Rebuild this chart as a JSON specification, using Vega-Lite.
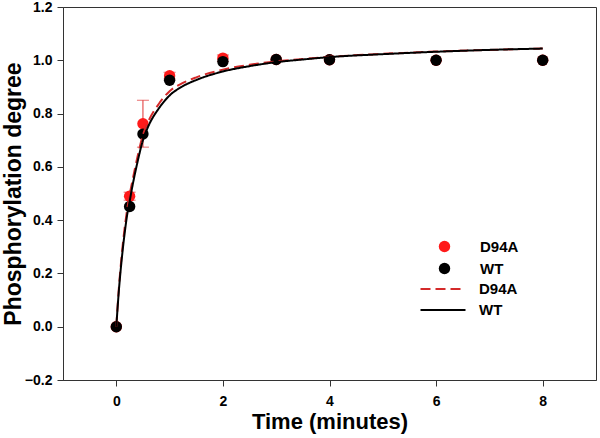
{
  "$schema": "https://vega.github.io/schema/vega-lite/v6.json",
  "width": 533,
  "height": 373,
  "autosize": "none",
  "padding": {"left": 63, "top": 7, "right": 4, "bottom": 58},
  "background": "white",
  "config": {
    "font": "Liberation Sans",
    "view": {"stroke": "#333333", "strokeWidth": 1},
    "axis": {
      "grid": false,
      "domainColor": "#333333",
      "tickColor": "#333333",
      "tickSize": 6,
      "labelFontSize": 14,
      "labelFontWeight": "bold",
      "labelColor": "#000000",
      "titleFontSize": 23,
      "titleFontWeight": "bold",
      "titleColor": "#000000"
    },
    "legend": {"padding": 0, "labelFontSize": 15, "labelFontWeight": "bold", "labelColor": "#000000"}
  },
  "datasets": {
    "points": [
      {"series": "D94A", "time": 0, "value": 0},
      {"series": "D94A", "time": 0.25, "value": 0.49},
      {"series": "D94A", "time": 0.5, "value": 0.762},
      {"series": "D94A", "time": 1, "value": 0.942},
      {"series": "D94A", "time": 2, "value": 1.008},
      {"series": "D94A", "time": 3, "value": 1.003},
      {"series": "D94A", "time": 4, "value": 1.002},
      {"series": "D94A", "time": 6, "value": 1.0},
      {"series": "D94A", "time": 8, "value": 1.0},
      {"series": "WT", "time": 0, "value": 0},
      {"series": "WT", "time": 0.25, "value": 0.451},
      {"series": "WT", "time": 0.5, "value": 0.723},
      {"series": "WT", "time": 1, "value": 0.925},
      {"series": "WT", "time": 2, "value": 0.995},
      {"series": "WT", "time": 3, "value": 1.003},
      {"series": "WT", "time": 4, "value": 1.002},
      {"series": "WT", "time": 6, "value": 1.0},
      {"series": "WT", "time": 8, "value": 1.0}
    ],
    "errors": [
      {"time": 0.25, "lower": 0.475, "upper": 0.505},
      {"time": 0.5, "lower": 0.674, "upper": 0.85},
      {"time": 1, "lower": 0.93, "upper": 0.955},
      {"time": 2, "lower": 0.995, "upper": 1.02}
    ],
    "curves": [
      {"fit": "D94A fit", "time": 0, "value": 0},
      {"fit": "D94A fit", "time": 0.05, "value": 0.15},
      {"fit": "D94A fit", "time": 0.1, "value": 0.265},
      {"fit": "D94A fit", "time": 0.15, "value": 0.36},
      {"fit": "D94A fit", "time": 0.2, "value": 0.435},
      {"fit": "D94A fit", "time": 0.25, "value": 0.495},
      {"fit": "D94A fit", "time": 0.3, "value": 0.545},
      {"fit": "D94A fit", "time": 0.4, "value": 0.64},
      {"fit": "D94A fit", "time": 0.5, "value": 0.72},
      {"fit": "D94A fit", "time": 0.6, "value": 0.77},
      {"fit": "D94A fit", "time": 0.8, "value": 0.837},
      {"fit": "D94A fit", "time": 1, "value": 0.884},
      {"fit": "D94A fit", "time": 1.25, "value": 0.915},
      {"fit": "D94A fit", "time": 1.5, "value": 0.936},
      {"fit": "D94A fit", "time": 2, "value": 0.965},
      {"fit": "D94A fit", "time": 2.5, "value": 0.983},
      {"fit": "D94A fit", "time": 3, "value": 0.996},
      {"fit": "D94A fit", "time": 3.5, "value": 1.005},
      {"fit": "D94A fit", "time": 4, "value": 1.013},
      {"fit": "D94A fit", "time": 5, "value": 1.024},
      {"fit": "D94A fit", "time": 6, "value": 1.033},
      {"fit": "D94A fit", "time": 7, "value": 1.039},
      {"fit": "D94A fit", "time": 8, "value": 1.044},
      {"fit": "WT fit", "time": 0, "value": 0},
      {"fit": "WT fit", "time": 0.05, "value": 0.14},
      {"fit": "WT fit", "time": 0.1, "value": 0.25},
      {"fit": "WT fit", "time": 0.15, "value": 0.34},
      {"fit": "WT fit", "time": 0.2, "value": 0.415},
      {"fit": "WT fit", "time": 0.25, "value": 0.47},
      {"fit": "WT fit", "time": 0.3, "value": 0.525},
      {"fit": "WT fit", "time": 0.4, "value": 0.62},
      {"fit": "WT fit", "time": 0.5, "value": 0.7},
      {"fit": "WT fit", "time": 0.6, "value": 0.752},
      {"fit": "WT fit", "time": 0.8, "value": 0.82},
      {"fit": "WT fit", "time": 1, "value": 0.868},
      {"fit": "WT fit", "time": 1.25, "value": 0.903},
      {"fit": "WT fit", "time": 1.5, "value": 0.926},
      {"fit": "WT fit", "time": 2, "value": 0.958},
      {"fit": "WT fit", "time": 2.5, "value": 0.978},
      {"fit": "WT fit", "time": 3, "value": 0.993},
      {"fit": "WT fit", "time": 3.5, "value": 1.003},
      {"fit": "WT fit", "time": 4, "value": 1.012},
      {"fit": "WT fit", "time": 5, "value": 1.023},
      {"fit": "WT fit", "time": 6, "value": 1.032},
      {"fit": "WT fit", "time": 7, "value": 1.039},
      {"fit": "WT fit", "time": 8, "value": 1.044}
    ]
  },
  "encoding": {
    "x": {
      "field": "time",
      "type": "quantitative",
      "scale": {"domain": [-1, 9], "nice": false, "zero": false},
      "axis": {"values": [0, 2, 4, 6, 8], "title": "Time (minutes)", "labelPadding": 8, "titlePadding": 3, "titleFontSize": 22}
    }
  },
  "layer": [
    {
      "data": {"name": "errors"},
      "mark": {"type": "rule", "color": "#e03030", "strokeWidth": 1},
      "encoding": {
        "y": {
          "field": "lower",
          "type": "quantitative",
          "scale": {"domain": [-0.2, 1.2], "nice": false, "zero": false},
          "axis": {"values": [-0.2, 0, 0.2, 0.4, 0.6, 0.8, 1, 1.2], "format": ".1f", "title": "Phosphorylation degree", "labelPadding": 5, "titlePadding": -1}
        },
        "y2": {"field": "upper"}
      }
    },
    {
      "data": {"name": "errors"},
      "mark": {"type": "tick", "orient": "horizontal", "color": "#e03030", "size": 12, "thickness": 1},
      "encoding": {"y": {"field": "upper", "type": "quantitative"}}
    },
    {
      "data": {"name": "errors"},
      "mark": {"type": "tick", "orient": "horizontal", "color": "#e03030", "size": 12, "thickness": 1},
      "encoding": {"y": {"field": "lower", "type": "quantitative"}}
    },
    {
      "data": {"name": "points"},
      "mark": {"type": "point", "filled": true, "shape": "circle", "size": 130, "opacity": 1, "strokeWidth": 0},
      "encoding": {
        "y": {"field": "value", "type": "quantitative"},
        "fill": {
          "field": "series",
          "type": "nominal",
          "scale": {"domain": ["D94A", "WT"], "range": ["#ff1a1a", "#000000"]},
          "legend": {"orient": "none", "legendX": 374, "legendY": 232, "title": null, "symbolType": "circle", "symbolSize": 130, "symbolStrokeWidth": 0, "labelOffset": 28, "rowPadding": 6}
        }
      }
    },
    {
      "data": {"name": "curves"},
      "mark": {"type": "line", "strokeWidth": 2, "interpolate": "monotone"},
      "encoding": {
        "y": {"field": "value", "type": "quantitative"},
        "stroke": {
          "field": "fit",
          "type": "nominal",
          "scale": {"domain": ["D94A fit", "WT fit"], "range": ["#d42a2a", "#000000"]},
          "legend": {"orient": "none", "legendX": 369, "legendY": 271, "title": null, "symbolType": "M-2.25,0H2.25", "symbolSize": 400, "symbolStrokeWidth": 2, "symbolFillColor": "transparent", "labelOffset": 25, "rowPadding": 2, "labelExpr": "replace(datum.label, ' fit', '')"}
        },
        "strokeDash": {
          "field": "fit",
          "type": "nominal",
          "scale": {"domain": ["D94A fit", "WT fit"], "range": [[10, 5], [1, 0]]},
          "legend": {"orient": "none", "legendX": 369, "legendY": 271, "title": null, "symbolType": "M-2.25,0H2.25", "symbolSize": 400, "symbolStrokeWidth": 2, "symbolFillColor": "transparent", "labelOffset": 25, "rowPadding": 2, "labelExpr": "replace(datum.label, ' fit', '')"}
        }
      }
    }
  ]
}
